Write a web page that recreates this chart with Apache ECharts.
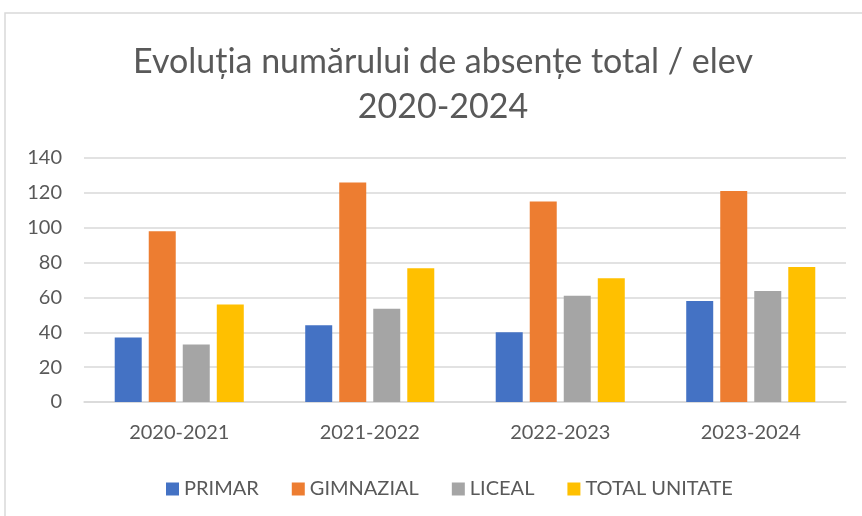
<!DOCTYPE html>
<html>
<head>
<meta charset="utf-8">
<script src="https://cdn.jsdelivr.net/npm/echarts@6/dist/echarts.min.js"></script>
<style>
  html, body { margin: 0; padding: 0; background: #fff; }
  #chart { width: 862px; height: 516px; }
</style>
</head>
<body>
<div id="chart"></div>
<script>
// date
var categories = ["2020-2021", "2021-2022", "2022-2023", "2023-2024"];
var primar = [37, 44, 40, 58];
var gimnazial = [98, 126, 115, 121];
var liceal = [33, 53.5, 61, 63.7];
var totalUnitate = [56, 76.7, 71, 77.5];
var yTicks = [0, 20, 40, 60, 80, 100, 120, 140];

var textColor = "#595959";
var gridColor = "#d9d9d9";
var font = "Lato";

var myChart = echarts.init(document.getElementById("chart"));

function barSeries(name, data, color) {
  return {
    type: "bar",
    name: name,
    data: data,
    barWidth: 27,
    barGap: "26%",
    itemStyle: { color: color },
  };
}

var option = {
  backgroundColor: "#fff",
  animation: false,
  textStyle: { fontFamily: font },
  graphic: [
    {
      type: "rect",
      shape: { x: 5, y: 13, width: 900, height: 600 },
      style: { fill: "none", stroke: gridColor, lineWidth: 1.5 },
      silent: true,
    },
  ],
  title: {
    text: "Evoluția numărului de absențe total / elev\n2020-2024",
    left: 438,
    top: 35,
    textAlign: "center",
    textStyle: {
      color: textColor,
      fontFamily: font,
      fontSize: 34,
      fontWeight: "normal",
      lineHeight: 45,
    },
  },
  legend: {
    top: 474,
    left: 161,
    itemWidth: 13,
    itemHeight: 13,
    itemGap: 33,
    icon: "rect",
    textStyle: { color: textColor, fontSize: 20, fontFamily: font },
  },
  grid: {
    left: 84,
    right: 16,
    top: 158,
    bottom: 114,
  },
  xAxis: {
    type: "category",
    data: categories,
    axisTick: { show: false },
    axisLine: { lineStyle: { color: gridColor, width: 1.5 } },
    axisLabel: { color: textColor, fontSize: 20, margin: 21, fontFamily: font },
  },
  yAxis: {
    type: "value",
    min: yTicks[0],
    max: yTicks[yTicks.length - 1],
    interval: 20,
    axisLine: { show: false },
    axisTick: { show: false },
    axisLabel: { color: textColor, fontSize: 20, margin: 22, fontFamily: font },
    splitLine: { lineStyle: { color: gridColor, width: 1.5 } },
  },
  series: [
    barSeries("PRIMAR", primar, "#4472c4"),
    barSeries("GIMNAZIAL", gimnazial, "#ed7d31"),
    barSeries("LICEAL", liceal, "#a5a5a5"),
    barSeries("TOTAL UNITATE", totalUnitate, "#ffc000"),
  ],
};

myChart.setOption(option);
</script>
</body>
</html>
